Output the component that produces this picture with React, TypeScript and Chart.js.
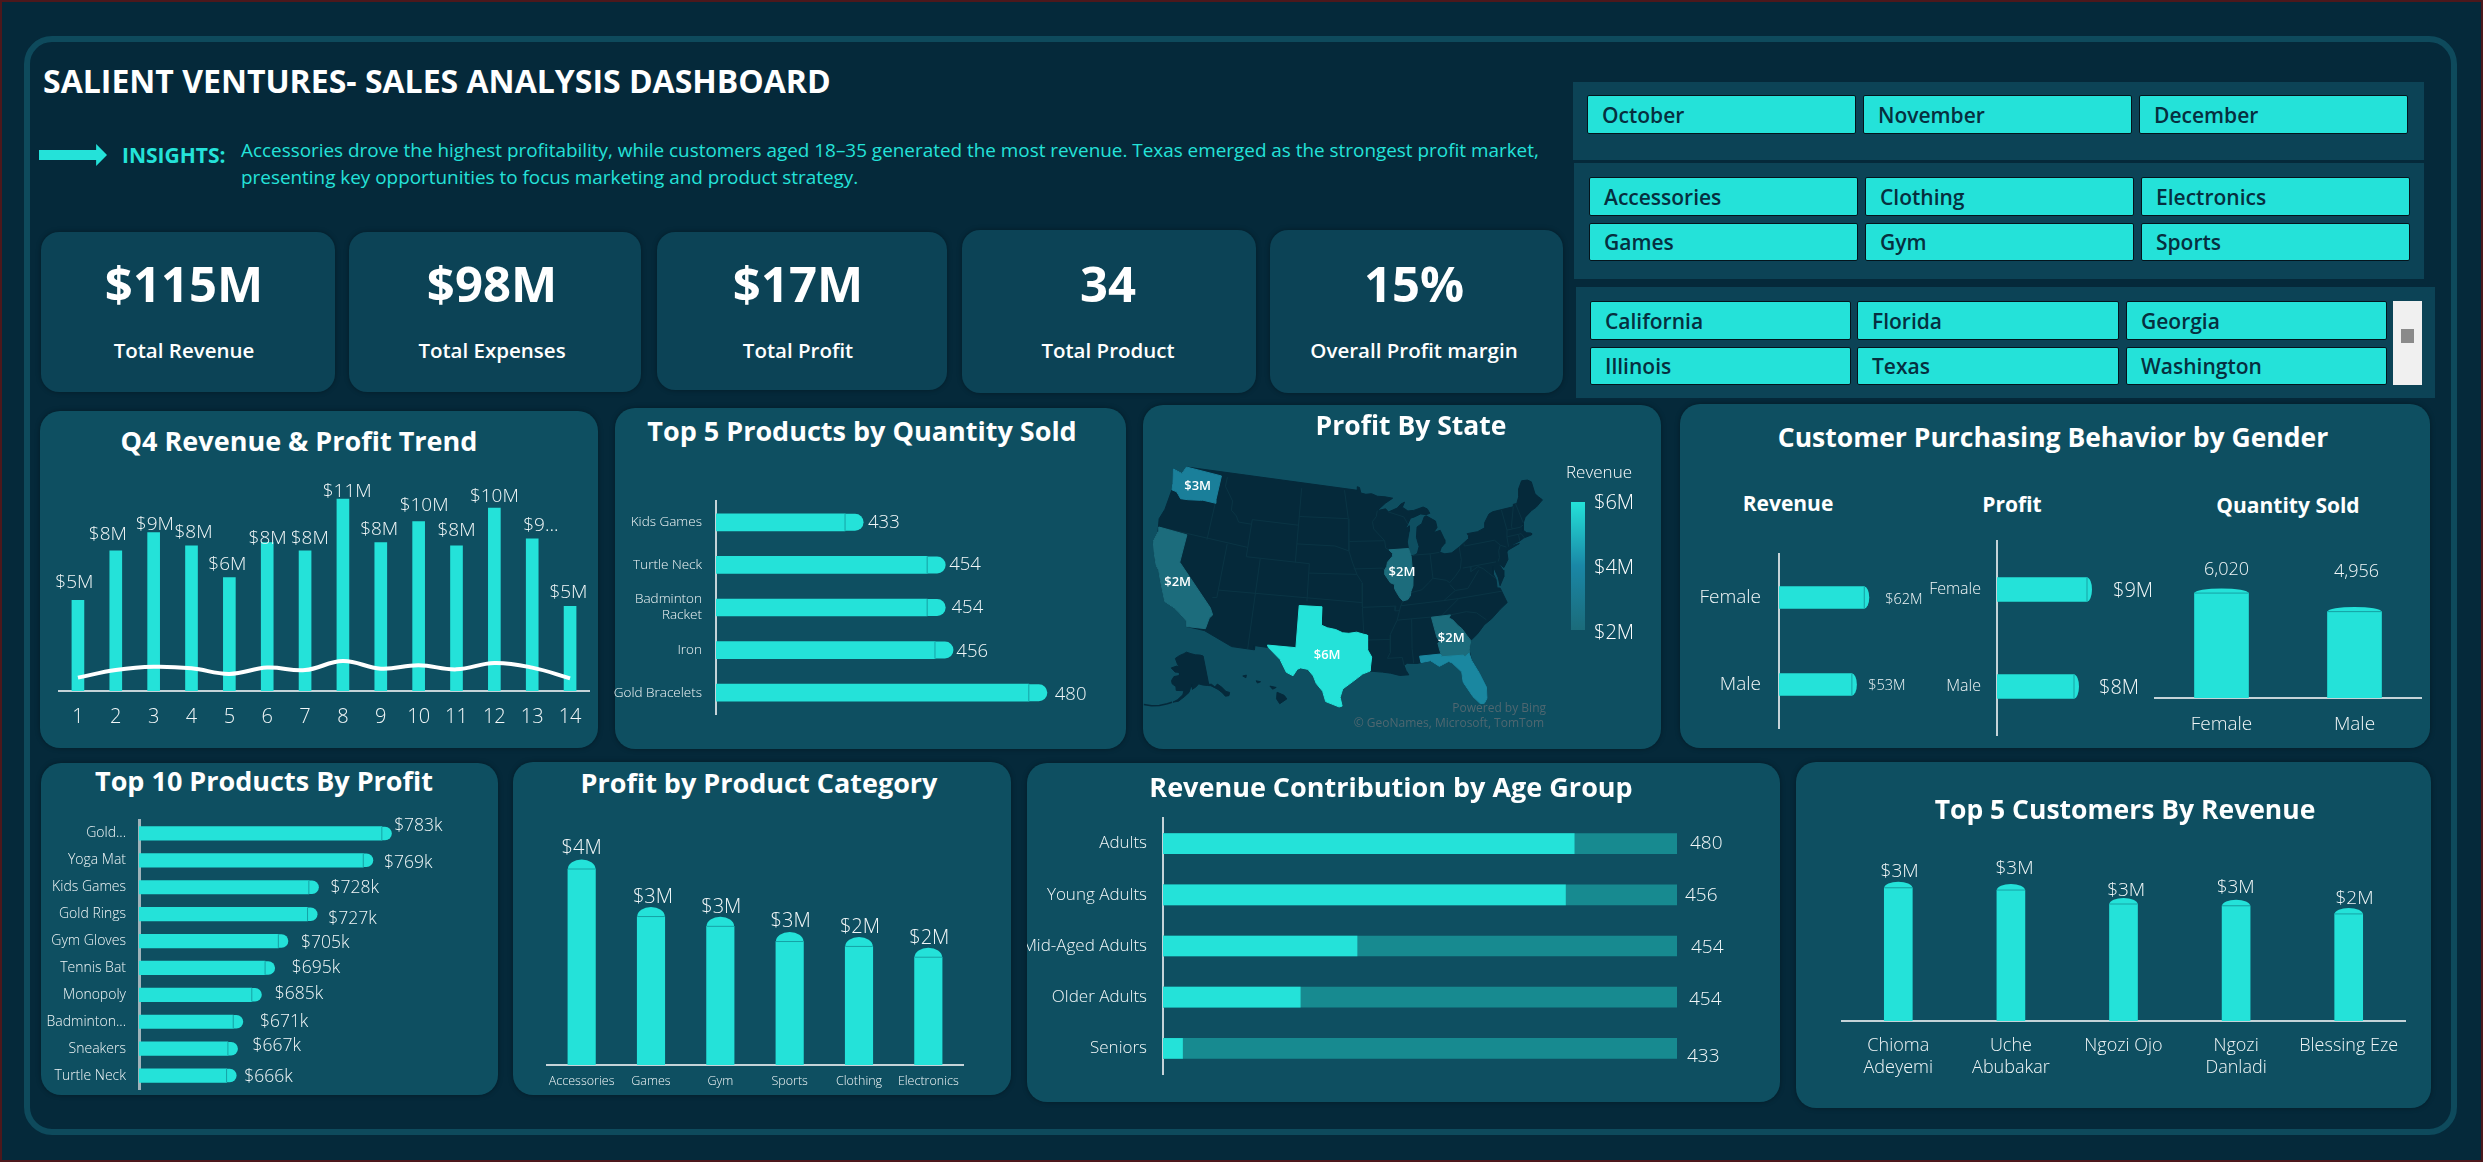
import { useEffect, useRef } from "react"
import { Chart, registerables } from "chart.js"

Chart.register(...registerables)

const FONT = '"Open Sans", "Noto Sans", sans-serif'
const CYAN = "#24e2d9"
const PAGE = "#05293a"
const CARD = "#0e4f61"
const KPI_BG = "#0c4356"
const AXIS = "#c5d3d8"
const SEAM = "#16a3a6"

// KPI strip and slicers
const kpiValues = ["$115M", "$98M", "$17M", "34", "15%"]
const kpiNames = ["Total Revenue", "Total Expenses", "Total Profit", "Total Product", "Overall Profit margin"]
const months = ["October", "November", "December"]
const productCategories = ["Accessories", "Clothing", "Electronics", "Games", "Gym", "Sports"]
const stateNames = ["California", "Florida", "Georgia", "Illinois", "Texas", "Washington"]

// Q4 trend, $M
const dayLabels = ["1", "2", "3", "4", "5", "6", "7", "8", "9", "10", "11", "12", "13", "14"]
const trendRevenue = [5.15, 7.97, 9.0, 8.25, 6.44, 8.43, 7.97, 10.9, 8.43, 9.62, 8.25, 10.4, 8.65, 4.81]
const trendProfit = [0.76, 1.19, 1.38, 1.29, 0.97, 1.33, 1.19, 1.7, 1.27, 1.46, 1.23, 1.59, 1.33, 0.72]
const trendText = ["$5M", "$8M", "$9M", "$8M", "$6M", "$8M", "$8M", "$11M", "$8M", "$10M", "$8M", "$10M", "$9...", "$5M"]

const topQtyProducts = ["Kids Games", "Turtle Neck", ["Badminton", "Racket"], "Iron", "Gold Bracelets"]
const topQtyValues = [433, 454, 454, 456, 480]

const topProfitProducts = ["Gold...", "Yoga Mat", "Kids Games", "Gold Rings", "Gym Gloves", "Tennis Bat", "Monopoly", "Badminton...", "Sneakers", "Turtle Neck"]
const topProfitValues = [783, 769, 728, 727, 705, 695, 685, 671, 667, 666]

const categoryNames = ["Accessories", "Games", "Gym", "Sports", "Clothing", "Electronics"]
const categoryProfit = [4.0, 3.03, 2.83, 2.52, 2.42, 2.2]
const categoryText = ["$4M", "$3M", "$3M", "$3M", "$2M", "$2M"]

const ageGroups = ["Adults", "Young Adults", "Mid-Aged Adults", "Older Adults", "Seniors"]
const ageShare = [80, 78.3, 37.75, 26.7, 3.8]
const ageTrack = [100, 100, 100, 100, 100]
const ageText = ["480", "456", "454", "454", "433"]

const customerNames = [["Chioma", "Adeyemi"], ["Uche", "Abubakar"], "Ngozi Ojo", ["Ngozi", "Danladi"], "Blessing Eze"]
const customerRevenue = [2.96, 2.91, 2.6, 2.56, 2.38]
const customerText = ["$3M", "$3M", "$3M", "$3M", "$2M"]

const genders = ["Female", "Male"]
const genderRevenue = [62, 53]
const genderProfit = [9, 7.7]
const genderQuantity = [6020, 4956]

// Map outlines, lon/lat
type LonLat = number[][]
const usOutline: LonLat = [[-124.7,48.4],[-123.2,48.2],[-122.8,49],[-95.15,49],[-95.15,49.38],[-94.8,49.3],[-94.6,48.7],[-93.8,48.55],[-92.9,48.6],[-92,48.3],[-90.8,48.2],[-89.6,48],[-90.8,47.5],[-92.1,46.75],[-90.8,46.9],[-90.4,46.55],[-89,46.9],[-88.4,47.3],[-87.8,47.47],[-88.2,46.95],[-87.4,46.5],[-86.5,46.5],[-85,46.75],[-84.4,46.5],[-84.1,46],[-84.7,45.9],[-85.5,46.05],[-86.5,45.8],[-87.1,45.7],[-87.6,45.1],[-88,44.55],[-87.4,44.9],[-87.5,44.3],[-87.9,43.2],[-87.8,42.3],[-87.55,41.75],[-87.2,41.65],[-86.6,41.9],[-86.25,42.6],[-86.5,43.6],[-86.25,44.7],[-85.5,45],[-85,45.7],[-84.7,45.78],[-83.4,45.1],[-83.3,44.4],[-83.9,43.9],[-82.9,44.05],[-82.45,43],[-82.5,42.6],[-83.1,42.2],[-83.4,41.75],[-82.7,41.5],[-81.7,41.5],[-80.5,42],[-79,42.7],[-78.9,43],[-79.05,43.25],[-77.5,43.25],[-76.4,43.5],[-76.2,44.05],[-75.3,44.85],[-74.7,45],[-71.5,45],[-71.4,45.25],[-70.85,45.25],[-70.3,45.9],[-70,46.7],[-69.2,47.45],[-68.3,47.35],[-67.8,47.05],[-67.8,45.7],[-67.45,45.3],[-67,44.85],[-68.2,44.3],[-69,44.1],[-70.2,43.6],[-70.7,43.05],[-70.8,42.6],[-71,42.3],[-70.6,41.95],[-70,41.8],[-70,41.6],[-71.2,41.5],[-71.85,41.3],[-73.6,41],[-72,41.05],[-74,40.6],[-74,40.5],[-74.1,39.7],[-74.9,38.95],[-75.5,39.5],[-75.1,38.7],[-75.2,38],[-75.95,37.15],[-75.95,38],[-76.3,39.3],[-76.5,38.5],[-76.3,37.9],[-76.4,37],[-76,36.9],[-75.5,35.25],[-76.6,34.7],[-77.9,33.9],[-79,33.4],[-80,32.6],[-81,32],[-81.4,31],[-81.3,29.9],[-80.6,28.4],[-80.05,26.8],[-80.2,25.6],[-80.6,25.1],[-81.1,25.15],[-81.8,26],[-82.7,27.7],[-82.7,28.8],[-83.7,29.9],[-84.1,30.1],[-85.3,29.7],[-86.3,30.4],[-88,30.25],[-89.2,30.35],[-89.6,30.15],[-89.4,29.6],[-89.1,29.1],[-90.2,29.1],[-91.3,29.4],[-92.3,29.55],[-93.8,29.7],[-94.7,29.4],[-95.9,28.6],[-97.1,27.8],[-97.4,26.9],[-97.15,25.95],[-97.5,25.85],[-99.1,26.4],[-99.5,27.5],[-100.3,28.3],[-100.7,29.1],[-101.4,29.77],[-102.3,29.88],[-102.7,29.7],[-103.15,28.98],[-104,29.3],[-104.9,30.6],[-106.5,31.75],[-108.2,31.78],[-108.2,31.33],[-111.07,31.33],[-114.8,32.5],[-117.1,32.53],[-117.3,33.1],[-118.4,33.75],[-119.2,34.15],[-120.6,34.55],[-121.9,36.6],[-122.5,37.6],[-123,38],[-123.8,39.3],[-124.35,40.4],[-124.1,41.5],[-124.5,42.85],[-124.1,44],[-123.95,46.2],[-124.1,46.9],[-124.7,48.4]]
const washington: LonLat = [[-124.7,48.4],[-123.2,48.2],[-122.8,49],[-117.03,49],[-117.04,46.42],[-116.92,45.99],[-118.98,46],[-119.3,45.93],[-121.2,45.65],[-122.3,45.55],[-122.8,45.9],[-123.2,46.15],[-123.95,46.2],[-124.1,46.9],[-124.7,48.4]]
const california: LonLat = [[-124.2,42],[-120,42],[-120,39],[-114.63,35],[-114.15,34.3],[-114.5,33.9],[-114.72,32.72],[-117.12,32.53],[-117.3,33.1],[-118.4,33.75],[-119.2,34.15],[-120.6,34.55],[-121.9,36.6],[-122.5,37.6],[-123,38],[-123.8,39.3],[-124.35,40.4],[-124.1,41.5],[-124.2,42]]
const texas: LonLat = [[-106.65,32],[-103.06,32],[-103.04,36.5],[-100,36.5],[-100,34.56],[-99.2,34.3],[-98.1,34.13],[-97.2,33.8],[-96.4,33.75],[-95.4,33.87],[-94.48,33.64],[-94.04,33.55],[-94.04,31.99],[-93.55,31.2],[-93.7,30.3],[-93.8,29.7],[-94.7,29.4],[-95.9,28.6],[-97.1,27.8],[-97.4,26.9],[-97.15,25.95],[-97.5,25.85],[-99.1,26.4],[-99.5,27.5],[-100.3,28.3],[-100.7,29.1],[-101.4,29.77],[-102.3,29.88],[-102.7,29.7],[-103.15,28.98],[-104,29.3],[-104.9,30.6],[-106.5,31.75],[-106.65,32]]
const illinois: LonLat = [[-90.65,42.5],[-87.8,42.5],[-87.55,41.75],[-87.53,41.7],[-87.53,39.35],[-87.65,38.5],[-88,37.9],[-88.1,37.5],[-88.5,37.1],[-89.15,37],[-89.5,37.3],[-89.95,37.95],[-90.2,38.4],[-90.15,38.8],[-90.7,39],[-91.45,39.95],[-91.4,40.4],[-91.1,40.75],[-90.95,41.2],[-90.2,41.8],[-90.15,42.1],[-90.65,42.5]]
const georgia: LonLat = [[-85.6,35],[-83.1,35],[-83.35,34.7],[-82.9,34.45],[-82.3,33.75],[-81.9,33.4],[-81.4,32.6],[-81,32],[-81.4,31],[-81.45,30.7],[-82.05,30.36],[-82.2,30.57],[-84.85,30.7],[-85.05,31.55],[-85.15,32.2],[-84.9,32.3],[-85.2,32.85],[-85.6,35]]
const florida: LonLat = [[-87.6,31],[-85,31],[-84.85,30.7],[-82.2,30.57],[-82.05,30.36],[-81.45,30.7],[-81.3,29.9],[-80.6,28.4],[-80.05,26.8],[-80.2,25.6],[-80.6,25.1],[-81.1,25.15],[-81.8,26],[-82.7,27.7],[-82.7,28.8],[-83.7,29.9],[-84.1,30.1],[-85.3,29.7],[-86.3,30.4],[-87.5,30.3],[-87.6,31]]
const alaska: LonLat = [[-141,69.65],[-143.5,70.1],[-148,70.4],[-152,70.85],[-156.5,71.35],[-159,70.8],[-163,70],[-166.2,68.9],[-163.5,67.1],[-161.8,66.3],[-164,66.5],[-168,65.6],[-164.5,64.5],[-161,64.6],[-161,63.6],[-164.8,63],[-166,61.6],[-165.2,60.6],[-162.5,59.9],[-162,58.7],[-158.5,58.8],[-157.2,58.8],[-157.7,57.5],[-160.5,55.8],[-163,54.8],[-160,55.3],[-156.5,57],[-154,58.3],[-153.2,59.5],[-151.8,60.7],[-151.8,59.3],[-149.5,60],[-147.5,60.9],[-145,60.4],[-142,60],[-139.8,59.7],[-137.5,58.7],[-136,58],[-134,56.5],[-133,55.2],[-131,55],[-130,55.9],[-131.8,56.6],[-133.5,58.4],[-135.5,59.7],[-137.5,59],[-139.2,60.1],[-141,60.3],[-141,69.65]]
const aleutians: LonLat = [[-163.5,54.7],[-166,54],[-170,52.9],[-174,52.1],[-178,51.7]]
const hawaiiIslands: LonLat[] = [
  [[-155.9,20.25],[-155.1,19.9],[-154.8,19.5],[-155.6,18.95],[-155.95,19.5],[-155.9,20.25]],
  [[-156.7,20.95],[-156,20.8],[-156.4,20.6],[-156.7,20.95]],
  [[-158.25,21.55],[-157.75,21.45],[-158.1,21.3],[-158.25,21.55]],
  [[-159.75,22.1],[-159.35,22.2],[-159.4,21.9],[-159.75,22.1]],
]
const stateBorders: LonLat[] = [
  [[-117.03,49],[-117.03,42]],
  [[-124.2,42],[-111.05,42]],
  [[-114.05,42],[-114.05,36.2],[-114.63,36.1]],
  [[-111.05,45],[-111.05,41]],
  [[-116.05,49],[-116.05,48],[-114.5,46.6],[-114.4,45.6],[-113.5,45.1],[-113,44.5],[-111.05,44.5]],
  [[-111.05,45],[-104.05,45]],
  [[-104.05,49],[-104.05,41]],
  [[-111.05,41],[-102.05,41]],
  [[-109.05,41],[-109.05,31.33]],
  [[-114.05,37],[-94.62,37]],
  [[-102.05,41],[-102.05,37]],
  [[-104.05,43],[-98.5,43],[-96.45,42.5]],
  [[-104.05,45.94],[-96.56,45.94]],
  [[-97.2,49],[-96.56,45.94],[-96.45,43.5],[-96.45,42.5],[-95.9,41.2],[-95.3,40],[-94.6,39.1],[-94.62,36.5],[-94.48,33.64]],
  [[-102.05,40],[-95.3,40]],
  [[-95.77,40.58],[-91.73,40.6],[-91.4,40.4]],
  [[-96.45,43.5],[-91.2,43.5]],
  [[-92.1,46.75],[-92.3,46.1],[-92.9,45.6],[-92.75,44.8],[-91.2,43.5],[-91.1,42.7],[-90.65,42.5]],
  [[-90.4,46.55],[-88.1,45.9],[-87.6,45.1]],
  [[-94.62,36.5],[-90.15,36.5],[-90.3,36],[-89.7,36]],
  [[-89.15,37],[-89.5,36.5],[-90.1,35],[-91.1,33.5],[-91.2,31.6],[-91.6,31],[-89.75,31],[-89.6,30.15]],
  [[-94.04,33.02],[-91.15,33]],
  [[-89.5,36.5],[-83.7,36.6],[-81.7,36.6],[-75.9,36.55]],
  [[-90.1,35],[-84.3,35],[-83.1,35]],
  [[-84.3,35],[-81.7,36.6]],
  [[-88.2,35],[-88.45,31.9],[-88.4,30.3]],
  [[-83.1,35],[-81,35.1],[-79.7,34.8],[-78.6,33.9]],
  [[-89.15,37],[-88,37.8],[-86.5,38],[-85.4,38.7],[-84.8,39.1],[-83,38.7],[-82.6,38.4]],
  [[-83.7,36.6],[-82,37.5],[-82.6,38.2]],
  [[-87.2,41.75],[-84.8,41.7],[-83.45,41.73]],
  [[-84.8,41.7],[-84.8,39.1]],
  [[-80.52,42],[-80.52,40.64],[-80.85,39.7],[-81.7,39],[-82.6,38.4]],
  [[-80.52,39.72],[-75.8,39.72]],
  [[-79.76,42.27],[-79.76,42],[-75.35,42],[-74.7,41.35],[-73.9,41]],
  [[-73.35,45],[-73.25,42.75],[-73.5,42.05],[-73.6,41]],
  [[-73.5,42.05],[-71.8,42.02],[-71.4,42.02],[-71.1,41.5]],
  [[-71.5,45],[-72.5,43],[-72.45,42.73]],
  [[-73.25,42.75],[-71.3,42.7],[-70.8,42.85]],
  [[-71.05,45.3],[-70.7,43.1]],
  [[-71.8,42.02],[-71.85,41.3]],
  [[-74.7,41.35],[-75.1,40.8],[-75.2,40.1],[-75.5,39.7]],
  [[-79.48,39.72],[-79.48,39.2],[-78.4,39.6],[-77.75,39.3],[-77.1,38.7],[-76.3,38]],
  [[-82,37.5],[-80.3,37.5],[-79.3,38.4],[-78.4,39.2]],
]
const stateTagNames = ["$3M", "$2M", "$6M", "$2M", "$2M"]
const stateTagSpots = [[-120.3,47.35],[-119.6,36.9],[-99.1,31.4],[-89,40.07],[-83.4,32.56]]

// label nudges seen in the picture, relative to the end of each bar
const trendDx = [-3.6, -7.9, 1.2, 2, -2, 0.4, 4.7, 4.3, -1.6, 5.5, 0, 0, 8.7, -1.6]
const trendDy = [-17.7, -16.3, -8.3, -13.3, -12.7, -4, -12, -7.3, -13.3, -16, -15.3, -11, -12.7, -14]
const qtyDx = [23, 22, 24.4, 21.4, 26]
const qtyDy = [0.7, 0.3, 0.7, 1.7, 2.3]
const profitDx = [12.3, 20.7, 21.7, 20.7, 22.7, 26.7, 23, 26.7, 24.7, 17.7]
const profitDy = [-7.3, 2.7, 0.7, 4.7, 1.7, 0, -1.3, 0, -3, 1]
const categoryDx = [0, 2, 1, 1, 1, 1]
const categoryDy = [-20.3, -19.3, -19.3, -20.3, -19.3, -19.3]
const ageDx = [13, 8, 14, 12, 10]
const ageDy = [0, 1, 2, 2, 8]
const customerDx = [1.3, 3.6, 2.7, -0.4, 5.8]
const customerDy = [-16.3, -21.7, -13.7, -18.7, -15.7]

type Box = [number, number, number, number]

interface BarLabels {
  text: string[]
  dx: number[]
  dy: number[]
  size: number
  datasetIndex?: number
}

function labelPlugin(lab: BarLabels, horizontal: boolean) {
  return {
    id: "barLabels",
    afterDatasetsDraw(chart: any) {
      const { ctx } = chart
      const meta = chart.getDatasetMeta(lab.datasetIndex ?? 0)
      ctx.save()
      ctx.font = `300 ${lab.size}px ${FONT}`
      ctx.fillStyle = "#f2f7f8"
      ctx.textBaseline = "middle"
      ctx.textAlign = horizontal ? "left" : "center"
      meta.data.forEach((bar: any, i: number) => {
        ctx.fillText(lab.text[i], bar.x + lab.dx[i], bar.y + lab.dy[i])
      })
      ctx.restore()
    },
  }
}

// rounded tip past the end of the bar with the thin seam, like the Power BI bars
function tipPlugin(depth: number, round: number, horizontal: boolean) {
  return {
    id: "barTips",
    afterDatasetsDraw(chart: any) {
      const { ctx } = chart
      const meta = chart.getDatasetMeta(0)
      ctx.save()
      meta.data.forEach((bar: any) => {
        ctx.fillStyle = CYAN
        ctx.beginPath()
        if (horizontal) {
          const half = bar.height / 2
          ctx.moveTo(bar.x, bar.y - half)
          ctx.lineTo(bar.x + depth - round, bar.y - half)
          ctx.ellipse(bar.x + depth - round, bar.y, round, half, 0, -Math.PI / 2, Math.PI / 2)
          ctx.lineTo(bar.x, bar.y + half)
        } else {
          const half = bar.width / 2
          ctx.moveTo(bar.x - half, bar.y)
          ctx.ellipse(bar.x, bar.y, half, round, 0, Math.PI, 2 * Math.PI)
        }
        ctx.closePath()
        ctx.fill()
        ctx.fillStyle = SEAM
        if (horizontal) ctx.fillRect(bar.x - 0.5, bar.y - bar.height / 2, 1, bar.height)
        else ctx.fillRect(bar.x - bar.width / 2, bar.y - 0.5, bar.width, 1)
      })
      ctx.restore()
    },
  }
}

interface BarSpec {
  box: Box
  plot: Box
  horizontal: boolean
  labels: any[]
  values: number[]
  min: number
  max: number
  thickness: number
  tickSize: number
  tickPad: number
  tip?: [number, number]
  lab: BarLabels
  extra?: any[]
  axisWidth?: number
  axisColor?: string
}

function barConfig(s: BarSpec): any {
  const [bl, bt, br, bb] = s.box
  const [pl, pt, pr, pb] = s.plot
  const tickFont = { family: FONT, size: s.tickSize, weight: "300" as any }
  const catAxis = {
    type: "category",
    position: s.horizontal ? "left" : "bottom",
    grid: { display: false, drawTicks: false },
    border: { color: s.axisColor ?? AXIS, width: s.axisWidth ?? 2 },
    ticks: { color: "#f2f7f8", font: tickFont, padding: s.tickPad, autoSkip: false, maxRotation: 0, minRotation: 0 },
    afterFit: (scale: any) => {
      if (s.horizontal) scale.width = pl - bl
      else scale.height = bb - pb
    },
  }
  const valAxis = { type: "linear", display: false, min: s.min, max: s.max }
  const plugins: any[] = [labelPlugin(s.lab, s.horizontal)]
  if (s.tip) plugins.unshift(tipPlugin(s.tip[0], s.tip[1], s.horizontal))
  return {
    type: "bar",
    data: {
      labels: s.labels,
      datasets: [
        { data: s.values, backgroundColor: CYAN, barThickness: s.thickness, grouped: false, order: 0 },
        ...(s.extra ?? []),
      ],
    },
    options: {
      responsive: false,
      animation: false,
      indexAxis: s.horizontal ? "y" : "x",
      layout: {
        autoPadding: false,
        padding: s.horizontal
          ? { left: 0, top: pt - bt, right: br - pr, bottom: bb - pb }
          : { left: pl - bl, top: pt - bt, right: br - pr, bottom: 0 },
      },
      scales: s.horizontal ? { y: catAxis, x: valAxis } : { x: catAxis, y: valAxis },
      plugins: { legend: { display: false }, title: { display: false }, tooltip: { enabled: false } },
    },
    plugins,
  }
}

function albers(lon: number, lat: number, lon0: number, lat0: number, p1: number, p2: number) {
  const r = Math.PI / 180
  const n = (Math.sin(p1 * r) + Math.sin(p2 * r)) / 2
  const c = Math.cos(p1 * r) ** 2 + 2 * n * Math.sin(p1 * r)
  const rho = (phi: number) => Math.sqrt(c - 2 * n * Math.sin(phi * r)) / n
  const t = n * (lon - lon0) * r
  return { x: rho(lat) * Math.sin(t), y: rho(lat0) - rho(lat) * Math.cos(t) }
}

const MAP_X = 1352
const MAP_Y = 598
const MAP_KX = 540
const MAP_KY = 535
const lower48 = (p: number[]) => albers(p[0], p[1], -96, 37.5, 29.5, 45.5)
const alaskaInset = (p: number[]) => {
  const a = albers(p[0], p[1], -154, 50, 55, 65)
  return { x: (1189 + 177 * a.x - MAP_X) / MAP_KX, y: (MAP_Y - 718 + 177 * a.y) / MAP_KY }
}
const hawaiiInset = (p: number[]) => ({
  x: (1281.5 + 8.9 * (p[0] + 155.4) - MAP_X) / MAP_KX,
  y: (MAP_Y - 698 + 8.8 * (p[1] - 19.6)) / MAP_KY,
})

function shape(points: any[], color: string) {
  return { data: points, showLine: true, fill: "shape", backgroundColor: color, borderColor: color, borderWidth: 1, pointRadius: 0 }
}
function border(points: any[], color: string, width = 1) {
  return { data: points, showLine: true, fill: false, borderColor: color, borderWidth: width, pointRadius: 0 }
}

function mapConfig(box: Box): any {
  const land = "#05293a"
  const seam = "#0a3444"
  const datasets: any[] = [
    shape(texas.map(lower48), CYAN),
    shape(washington.map(lower48), "#1a7f9a"),
    shape(florida.map(lower48), "#1a87a0"),
    shape(california.map(lower48), "#1c6c7c"),
    shape(illinois.map(lower48), "#1c6c7c"),
    shape(georgia.map(lower48), "#1c6c7c"),
    ...stateBorders.map((b) => border(b.map(lower48), seam)),
    shape(usOutline.map(lower48), land),
    shape(alaska.map(alaskaInset), land),
    border(aleutians.map(alaskaInset), land, 1.5),
    ...hawaiiIslands.map((h) => shape(h.map(hawaiiInset), land)),
  ]
  return {
    type: "scatter",
    data: { datasets },
    options: {
      responsive: false,
      animation: false,
      layout: { padding: 0, autoPadding: false },
      scales: {
        x: { type: "linear", display: false, min: (box[0] - MAP_X) / MAP_KX, max: (box[2] - MAP_X) / MAP_KX },
        y: { type: "linear", display: false, min: (MAP_Y - box[3]) / MAP_KY, max: (MAP_Y - box[1]) / MAP_KY },
      },
      plugins: { legend: { display: false }, tooltip: { enabled: false } },
    },
    plugins: [
      {
        id: "stateTags",
        afterDatasetsDraw(chart: any) {
          const { ctx, scales } = chart
          ctx.save()
          ctx.font = `600 13px ${FONT}`
          ctx.fillStyle = "#ffffff"
          ctx.textAlign = "center"
          ctx.textBaseline = "middle"
          stateTagNames.forEach((t, i) => {
            const p = lower48(stateTagSpots[i])
            ctx.fillText(t, scales.x.getPixelForValue(p.x), scales.y.getPixelForValue(p.y))
          })
          ctx.restore()
        },
      },
    ],
  }
}

function trendConfig(box: Box, plot: Box): any {
  const cfg = barConfig({
    box,
    plot,
    horizontal: false,
    labels: dayLabels,
    values: trendRevenue,
    min: 0,
    max: 12.5,
    thickness: 12,
    tickSize: 20,
    tickPad: 14,
    lab: { text: trendText, dx: trendDx, dy: trendDy, size: 19 },
  })
  cfg.data.datasets[0].order = 1
  cfg.data.datasets.push({
    type: "line",
    data: trendProfit,
    borderColor: "#ffffff",
    borderWidth: 4,
    tension: 0.4,
    pointRadius: 0,
    fill: false,
    order: 0,
  })
  return cfg
}

function ChartBox({ box, make }: { box: Box; make: () => any }) {
  const ref = useRef<HTMLCanvasElement>(null)
  useEffect(() => {
    if (!ref.current) return
    const c = new Chart(ref.current, make())
    return () => c.destroy()
  }, [])
  return (
    <canvas
      ref={ref}
      width={box[2] - box[0]}
      height={box[3] - box[1]}
      style={{ position: "absolute", left: box[0], top: box[1], width: box[2] - box[0], height: box[3] - box[1] }}
    />
  )
}

function Txt(props: { x: number; y: number; size: number; weight?: number; color?: string; align?: string; children: any }) {
  const { x, y, size, weight = 400, color = "#fff", align = "center", children } = props
  const shift = align === "center" ? "-50%" : align === "right" ? "-100%" : "0"
  return (
    <div
      style={{
        position: "absolute",
        left: x,
        top: y,
        fontFamily: FONT,
        fontSize: size,
        fontWeight: weight,
        color,
        whiteSpace: "nowrap",
        lineHeight: 1,
        transform: `translate(${shift}, -50%)`,
      }}
    >
      {children}
    </div>
  )
}

function Panel({ box, color = CARD, radius = 20 }: { box: Box; color?: string; radius?: number }) {
  return (
    <div
      style={{
        position: "absolute",
        left: box[0],
        top: box[1],
        width: box[2] - box[0],
        height: box[3] - box[1],
        background: color,
        borderRadius: radius,
        boxShadow: radius ? "0 0 5px rgba(0,0,0,0.35)" : "none",
      }}
    />
  )
}

function Slicer({ box, label }: { box: Box; label: string }) {
  return (
    <div
      style={{
        position: "absolute",
        left: box[0],
        top: box[1],
        width: box[2] - box[0],
        height: box[3] - box[1],
        boxSizing: "border-box",
        background: CYAN,
        border: "1px solid #03141c",
        borderRadius: 2,
        paddingLeft: 14,
        display: "flex",
        alignItems: "center",
        fontFamily: FONT,
        fontSize: 21,
        fontWeight: 600,
        color: "#062f3f",
      }}
    >
      {label}
    </div>
  )
}

const kpiBoxes: Box[] = [[41, 232, 335, 392], [349, 232, 641, 392], [657, 232, 947, 390], [962, 230, 1256, 393], [1270, 230, 1563, 393]]
const kpiCenters = [184, 492, 798, 1108, 1414]

export default function App() {
  return (
    <div style={{ position: "absolute", left: 0, top: 0, width: 2483, height: 1162, boxSizing: "border-box", overflow: "hidden", background: PAGE, border: "2px solid #4d181c" }}>
      <div style={{ position: "absolute", left: -2, top: -2, width: 2483, height: 1162 }}>
        <div style={{ position: "absolute", left: 24, top: 36, width: 2433, height: 1099, boxSizing: "border-box", border: "6px solid #0e4a5c", borderRadius: 28 }} />

        <Txt x={43} y={81} size={32} weight={700} align="left">SALIENT VENTURES- SALES ANALYSIS DASHBOARD</Txt>
        <div style={{ position: "absolute", left: 39, top: 144, width: 68, height: 22, background: CYAN, clipPath: "polygon(0 27%, 84% 27%, 84% 0, 100% 50%, 84% 100%, 84% 73%, 0 73%)" }} />
        <Txt x={122} y={155} size={21} weight={700} color={CYAN} align="left">INSIGHTS:</Txt>
        <Txt x={241} y={150} size={18.9} color={CYAN} align="left">Accessories drove the highest profitability, while customers aged 18–35 generated the most revenue. Texas emerged as the strongest profit market,</Txt>
        <Txt x={241} y={177} size={18.9} color={CYAN} align="left">presenting key opportunities to focus marketing and product strategy.</Txt>

        {kpiBoxes.map((b, i) => (
          <div key={i}>
            <Panel box={b} color={KPI_BG} radius={18} />
            <Txt x={kpiCenters[i]} y={283} size={49} weight={700}>{kpiValues[i]}</Txt>
            <Txt x={kpiCenters[i]} y={350} size={20.5} weight={600}>{kpiNames[i]}</Txt>
          </div>
        ))}

        <Panel box={[1573, 82, 2424, 160]} color={KPI_BG} radius={0} />
        {months.map((m, i) => (
          <Slicer key={m} label={m} box={[[1587, 95, 1856, 134], [1863, 95, 2132, 134], [2139, 95, 2408, 134]][i] as Box} />
        ))}
        <Panel box={[1574, 163, 2424, 279]} color={KPI_BG} radius={0} />
        {productCategories.map((m, i) => (
          <Slicer key={m} label={m} box={[[1589, 177, 1858, 216], [1865, 177, 2134, 216], [2141, 177, 2410, 216], [1589, 223, 1858, 261], [1865, 223, 2134, 261], [2141, 223, 2410, 261]][i] as Box} />
        ))}
        <Panel box={[1576, 287, 2435, 398]} color={KPI_BG} radius={0} />
        {stateNames.map((m, i) => (
          <Slicer key={m} label={m} box={[[1590, 301, 1851, 340], [1857, 301, 2119, 340], [2126, 301, 2387, 340], [1590, 347, 1851, 385], [1857, 347, 2119, 385], [2126, 347, 2387, 385]][i] as Box} />
        ))}
        <div style={{ position: "absolute", left: 2393, top: 301, width: 29, height: 84, background: "#f0f0f0" }} />
        <div style={{ position: "absolute", left: 2401, top: 329, width: 13, height: 14, background: "#8a8a8a" }} />

        {/* Q4 trend */}
        <Panel box={[40, 411, 598, 748]} />
        <Txt x={299} y={440} size={27} weight={700}>Q4 Revenue &amp; Profit Trend</Txt>
        <ChartBox box={[40, 450, 598, 748]} make={() => trendConfig([40, 450, 598, 748], [59, 471, 589, 691])} />

        {/* top 5 by quantity */}
        <Panel box={[615, 408, 1126, 749]} />
        <Txt x={862} y={430} size={27} weight={700}>Top 5 Products by Quantity Sold</Txt>
        <ChartBox box={[606, 470, 1126, 749]} make={() => barConfig({
          box: [606, 470, 1126, 749], plot: [716, 501, 1107, 714], horizontal: true,
          labels: topQtyProducts, values: topQtyValues, min: 400, max: 500, thickness: 17,
          tickSize: 13.5, tickPad: 14, tip: [18.5, 8.5], lab: { text: topQtyValues.map(String), dx: qtyDx, dy: qtyDy, size: 18.5 },
        })} />

        {/* map */}
        <Panel box={[1143, 405, 1661, 749]} />
        <ChartBox box={[1143, 405, 1661, 749]} make={() => mapConfig([1143, 405, 1661, 749])} />
        <Txt x={1411} y={425} size={26.5} weight={700}>Profit By State</Txt>
        <Txt x={1599} y={471} size={17} weight={300}>Revenue</Txt>
        <div style={{ position: "absolute", left: 1571, top: 502, width: 14, height: 128, background: "linear-gradient(#24e2d9 0%, #1a87a6 50%, #1b6b7a 100%)" }} />
        <Txt x={1594} y={502} size={20} weight={300} align="left">$6M</Txt>
        <Txt x={1594} y={567} size={20} weight={300} align="left">$4M</Txt>
        <Txt x={1594} y={632} size={20} weight={300} align="left">$2M</Txt>
        <Txt x={1546} y={708} size={12} color="#4f6770" align="right">Powered by Bing</Txt>
        <Txt x={1544} y={723} size={12} color="#4f6770" align="right">© GeoNames, Microsoft, TomTom</Txt>

        {/* gender */}
        <Panel box={[1680, 404, 2430, 748]} />
        <Txt x={2053} y={437} size={26.5} weight={700}>Customer Purchasing Behavior by Gender</Txt>
        <Txt x={1788} y={503} size={21} weight={700}>Revenue</Txt>
        <Txt x={2012} y={504} size={21} weight={700}>Profit</Txt>
        <Txt x={2288} y={505} size={21} weight={700}>Quantity Sold</Txt>
        <ChartBox box={[1690, 520, 1930, 760]} make={() => barConfig({
          box: [1690, 520, 1930, 760], plot: [1779, 554, 1889, 728], horizontal: true,
          labels: genders, values: genderRevenue, min: 0, max: 80, thickness: 22,
          tickSize: 19, tickPad: 18, tip: [5, 5], lab: { text: ["$62M", "$53M"], dx: [21, 16.4], dy: [2, 1], size: 14.5 },
        })} />
        <ChartBox box={[1930, 510, 2152, 765]} make={() => barConfig({
          box: [1930, 510, 2152, 765], plot: [1997, 541, 2117, 735], horizontal: true,
          labels: genders, values: genderProfit, min: 0, max: 12, thickness: 24,
          tickSize: 16, tickPad: 16, tip: [5, 5], lab: { text: ["$9M", "$8M"], dx: [26, 25], dy: [1.5, 1.5], size: 20 },
        })} />
        <ChartBox box={[2152, 540, 2425, 745]} make={() => barConfig({
          box: [2152, 540, 2425, 745], plot: [2155, 576, 2421, 698], horizontal: false,
          labels: genders, values: genderQuantity, min: 0, max: 7000, thickness: 54,
          tickSize: 19, tickPad: 15, tip: [5, 4.7], lab: { text: ["6,020", "4,956"], dx: [5, 2], dy: [-23, -40], size: 18 },
        })} />

        {/* top 10 by profit */}
        <Panel box={[41, 763, 498, 1095]} />
        <Txt x={264} y={780} size={27} weight={700}>Top 10 Products By Profit</Txt>
        <ChartBox box={[41, 795, 498, 1115]} make={() => barConfig({
          box: [41, 795, 498, 1115], plot: [139, 820, 484, 1089], horizontal: true,
          labels: topProfitProducts, values: topProfitValues, min: 600, max: 860, thickness: 13.5,
          tickSize: 14, tickPad: 13, tip: [10, 6.75], axisWidth: 3, axisColor: "#9fb3ba",
          lab: { text: ["$783k", "$769k", "$728k", "$727k", "$705k", "$695k", "$685k", "$671k", "$667k", "$666k"], dx: profitDx, dy: profitDy, size: 17.5 },
        })} />

        {/* profit by category */}
        <Panel box={[513, 762, 1011, 1095]} />
        <Txt x={759} y={782} size={27} weight={700}>Profit by Product Category</Txt>
        <ChartBox box={[513, 810, 1011, 1095]} make={() => barConfig({
          box: [513, 810, 1011, 1095], plot: [547, 844.5, 963, 1065], horizontal: false,
          labels: categoryNames, values: categoryProfit, min: 0, max: 4.5, thickness: 27.5,
          tickSize: 12.5, tickPad: 9, tip: [9.5, 9.5], lab: { text: categoryText, dx: categoryDx, dy: categoryDy, size: 20 },
        })} />

        {/* age group */}
        <Panel box={[1027, 763, 1780, 1102]} />
        <Txt x={1391} y={786} size={27} weight={700}>Revenue Contribution by Age Group</Txt>
        <ChartBox box={[1027, 785, 1780, 1105]} make={() => barConfig({
          box: [1027, 785, 1780, 1105], plot: [1163, 818, 1677, 1074], horizontal: true,
          labels: ageGroups, values: ageShare, min: 0, max: 100, thickness: 20,
          tickSize: 17, tickPad: 16,
          extra: [{ data: ageTrack, backgroundColor: "#178a90", barThickness: 20, grouped: false, order: 1 }],
          lab: { text: ageText, dx: ageDx, dy: ageDy, size: 19, datasetIndex: 1 },
        })} />

        {/* top customers */}
        <Panel box={[1796, 762, 2431, 1108]} />
        <Txt x={2125} y={809} size={26.5} weight={700}>Top 5 Customers By Revenue</Txt>
        <ChartBox box={[1796, 830, 2431, 1108]} make={() => barConfig({
          box: [1796, 830, 2431, 1108], plot: [1842, 841, 2405, 1021], horizontal: false,
          labels: customerNames, values: customerRevenue, min: 0, max: 4, thickness: 28,
          tickSize: 18, tickPad: 14, tip: [6, 6], lab: { text: customerText, dx: customerDx, dy: customerDy, size: 19 },
        })} />
      </div>
    </div>
  )
}
